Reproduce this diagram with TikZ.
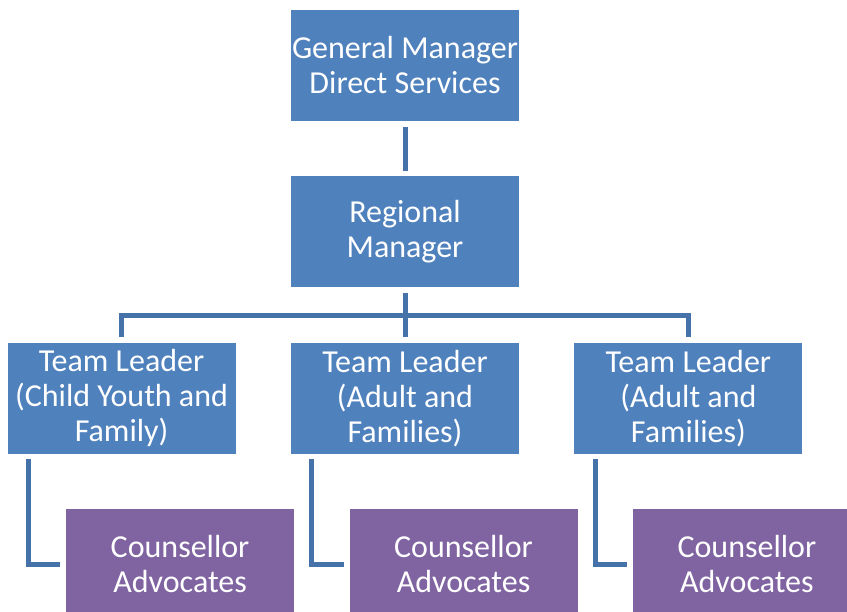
\documentclass[tikz,border=0pt]{standalone}
\usepackage{fontspec}
\setmainfont{Carlito}
\usetikzlibrary{positioning}
\definecolor{boxblue}{HTML}{4F81BD}
\definecolor{boxpurple}{HTML}{8064A2}
\definecolor{linkblue}{HTML}{4672AA}

\begin{document}
\begin{tikzpicture}[x=1pt,y=-1pt,node distance=55pt,
    box/.style={rectangle,fill=boxblue,text=white,minimum width=228pt,minimum height=111pt,
      inner sep=0pt,align=center,font=\fontsize{32}{35}\selectfont},
    staff/.style={box,fill=boxpurple},
    link/.style={draw=linkblue,line width=5pt,shorten <=5.5pt,shorten >=5.5pt}]
    \clip (0,0) rectangle (847,612);

    \node[box] (gm) at (405,65.5) {General Manager\\Direct Services};
    \node[box] (rm) [below=of gm] {Regional\\Manager};
    \node[box] (tlb) [below=of rm] {Team Leader\\(Adult and\\Families)};
    \node[box] (tla) [left=of tlb] {Team Leader\\(Child Youth and\\Family)};
    \node[box] (tlc) [right=of tlb] {Team Leader\\(Adult and\\Families)};
    \node[staff] (caa) at ([shift={(58.5,166)}]tla.center) {Counsellor\\Advocates};
    \node[staff] (cab) at ([shift={(58.5,166)}]tlb.center) {Counsellor\\Advocates};
    \node[staff] (cac) at ([shift={(58.5,166)}]tlc.center) {Counsellor\\Advocates};
    \coordinate (bus) at (405,316);

    \draw[link] (gm) -- (rm);
    \draw[link] (rm.south) -- (rm.south |- bus) -| (tla.north);
    \draw[link] (rm.south) -- (tlb.north);
    \draw[link] (rm.south) -- (rm.south |- bus) -| (tlc.north);
    \draw[link] ([xshift=21pt]tla.south west) |- (caa.west);
    \draw[link] ([xshift=21pt]tlb.south west) |- (cab.west);
    \draw[link] ([xshift=21pt]tlc.south west) |- (cac.west);
\end{tikzpicture}
\end{document}
